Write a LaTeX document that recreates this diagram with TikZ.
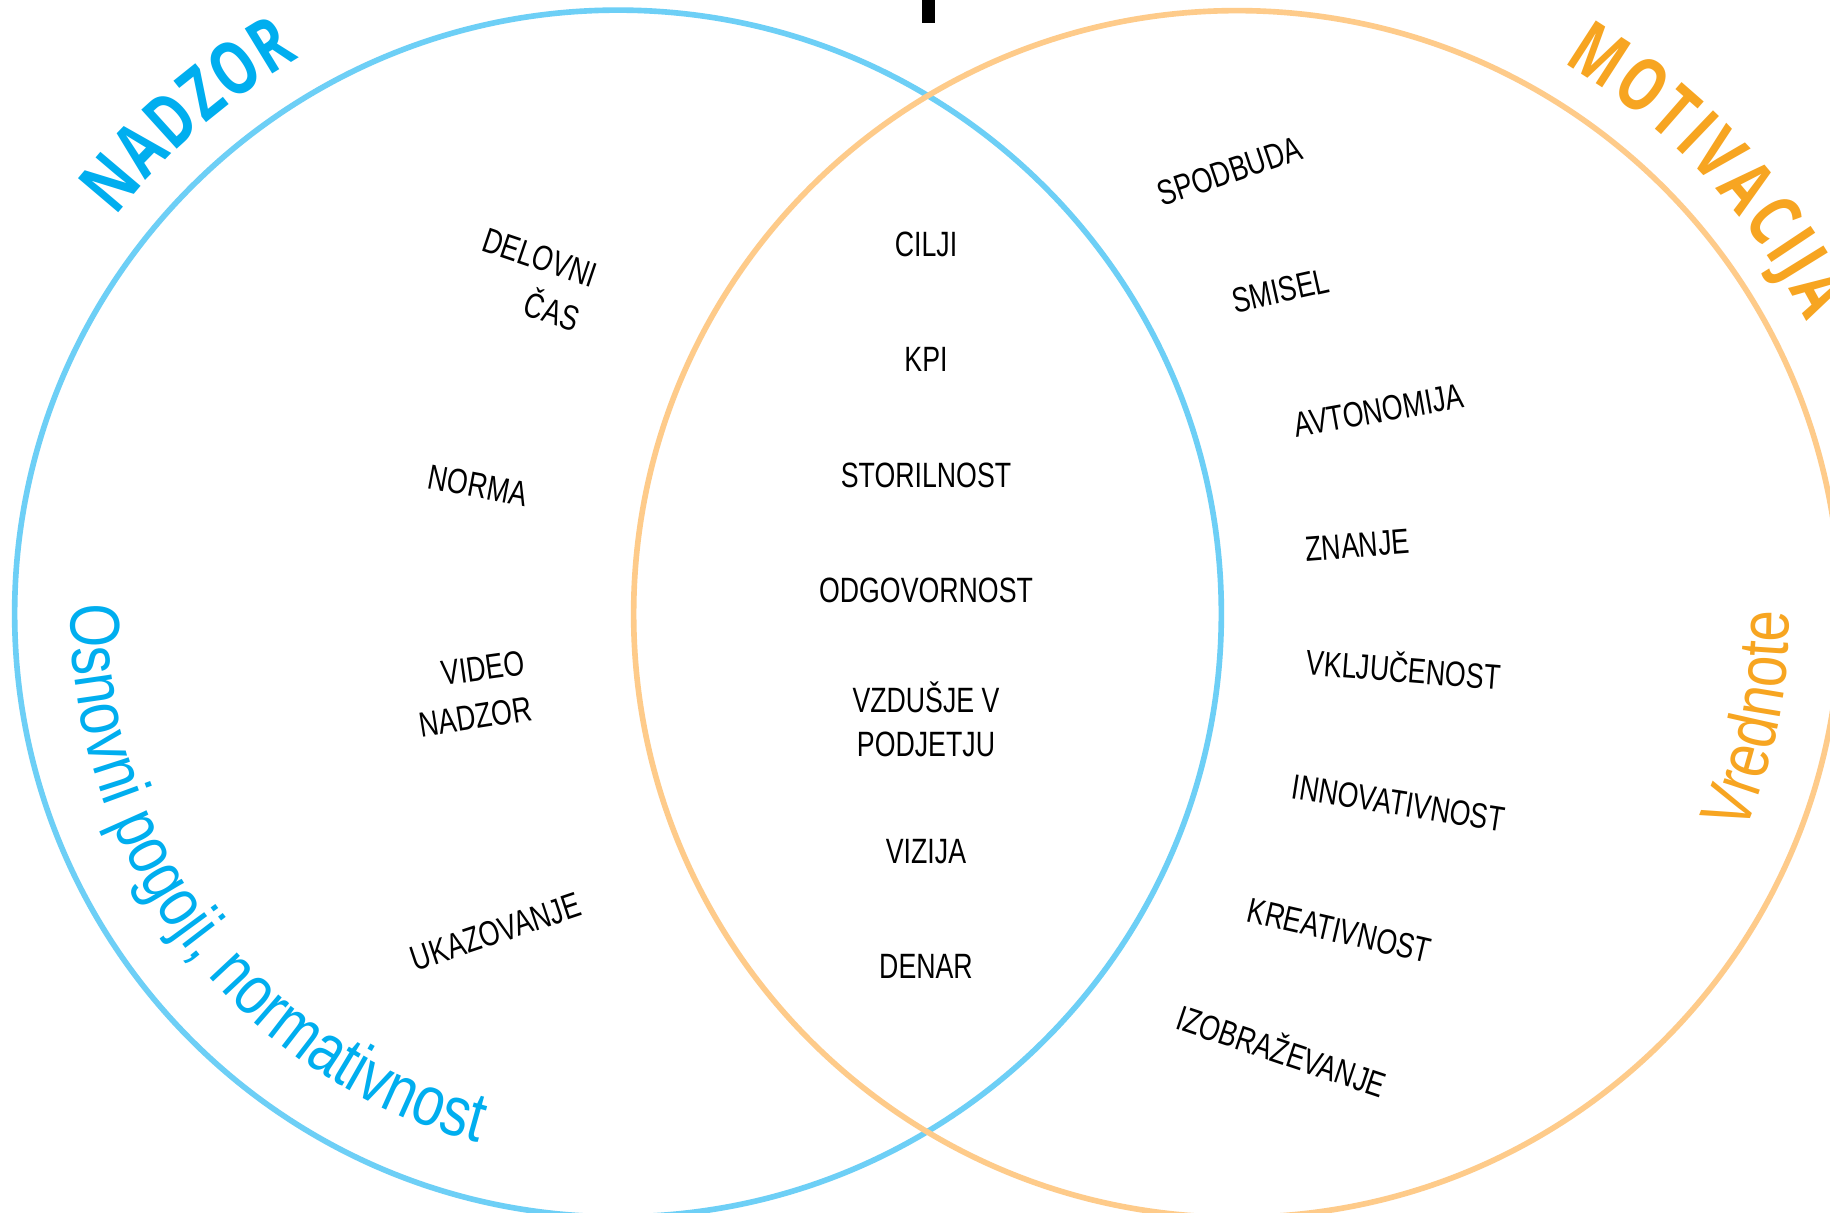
\documentclass[tikz,border=0pt]{standalone}
\usepackage{fontspec}
\setmainfont{Liberation Sans}
\newfontfamily\lblfont[FakeStretch=0.76]{Liberation Sans}
\newfontfamily\arcfont[FakeStretch=0.8]{Liberation Sans}
\newfontfamily\titlefont[FakeStretch=0.74]{Open Sans}
\usetikzlibrary{decorations.text}
\definecolor{cblue}{RGB}{109,207,246}
\definecolor{corange}{RGB}{254,203,138}
\definecolor{tblue}{RGB}{0,174,239}
\definecolor{torange}{RGB}{247,165,33}
\begin{document}
\begin{tikzpicture}[x=0.01cm,y=0.01cm,
  lbl/.style={font=\lblfont\fontsize{10}{12}\selectfont, inner sep=0pt, anchor=base, text=black},
  ring/.style={line width=1.6pt}]
\fill[white] (0,0) rectangle (1830,1213);
\useasboundingbox (0,0) rectangle (1830,1213);
\coordinate (Lc) at (618,599.5);
\coordinate (Rc) at (1237,599);
% circles
\draw[ring, cblue] (Lc) circle[radius=6.03cm];
\draw[ring, corange] (Rc) circle[radius=6.03cm];
% top bar
\fill[black] (922,1190) rectangle (935,1213);
% titles
\path[decorate, decoration={text along path, text color=tblue, text align=fit to path,
  text={|\titlefont\bfseries\fontsize{21}{24}\selectfont|NADZOR}}]
  (Lc) ++(141.7:6.40cm) arc[start angle=141.7, end angle=119.8, radius=6.40cm];
\path[decorate, decoration={text along path, text color=torange, text align=fit to path,
  text={|\titlefont\bfseries\fontsize{21}{24}\selectfont|MOTIVACIJA}}]
  (Rc) ++(59.4:6.40cm) arc[start angle=59.4, end angle=27.2, radius=6.40cm];
\path[decorate, decoration={text along path, text color=tblue, text align=fit to path,
  text={|\arcfont\fontsize{20}{24}\selectfont|Osnovni pogoji, normativnost}}]
  (Lc) ++(179.1:5.47cm) arc[start angle=179.1, end angle=255.2, radius=5.47cm];
\path[decorate, decoration={text along path, text color=torange, text align=center,
  text={|\arcfont\fontsize{20}{24}\selectfont|Vrednote}}]
  (Rc) ++(-36.6:5.52cm) arc[start angle=-36.6, end angle=13.4, radius=5.52cm];
% left labels
\node[lbl, rotate=-18.7] (delovni) at (536,944) {DELOVNI};
\node[lbl, rotate=-18.7] (cas) at (548,889.5) {ČAS};
\node[lbl, rotate=-10.6] (norma) at (475.8,715.5) {NORMA};
\node[lbl, rotate=8] (video) at (485,533) {VIDEO};
\node[lbl, rotate=9] (vnadzor) at (477.5,484) {NADZOR};
\node[lbl, rotate=18.5] (ukaz) at (499.5,269.7) {UKAZOVANJE};
% centre labels
\node[lbl] (cilji) at (926,956.5) {CILJI};
\node[lbl] (kpi) at (926,841) {KPI};
\node[lbl] (stor) at (926,725.5) {STORILNOST};
\node[lbl] (odg) at (926,610) {ODGOVORNOST};
\node[lbl] (vzd) at (926,500) {VZDUŠJE V};
\node[lbl] (podj) at (926,456.3) {PODJETJU};
\node[lbl] (vizija) at (926,349.7) {VIZIJA};
\node[lbl] (denar) at (926,234) {DENAR};
% right labels
\node[lbl, rotate=18.7] (spod) at (1233.3,1030.5) {SPODBUDA};
\node[lbl, rotate=12.6] (smisel) at (1283.3,910.5) {SMISEL};
\node[lbl, rotate=10.2] (avt) at (1380.8,790.5) {AVTONOMIJA};
\node[lbl, rotate=4.5] (znanje) at (1358.3,655.5) {ZNANJE};
\node[lbl, rotate=-4.5] (vklj) at (1402.5,530.5) {VKLJUČENOST};
\node[lbl, rotate=-8.9] (innov) at (1396.7,398) {INNOVATIVNOST};
\node[lbl, rotate=-13] (kreat) at (1336.7,270.5) {KREATIVNOST};
\node[lbl, rotate=-18.6] (izob) at (1277.5,149.7) {IZOBRAŽEVANJE};
\end{tikzpicture}
\end{document}
